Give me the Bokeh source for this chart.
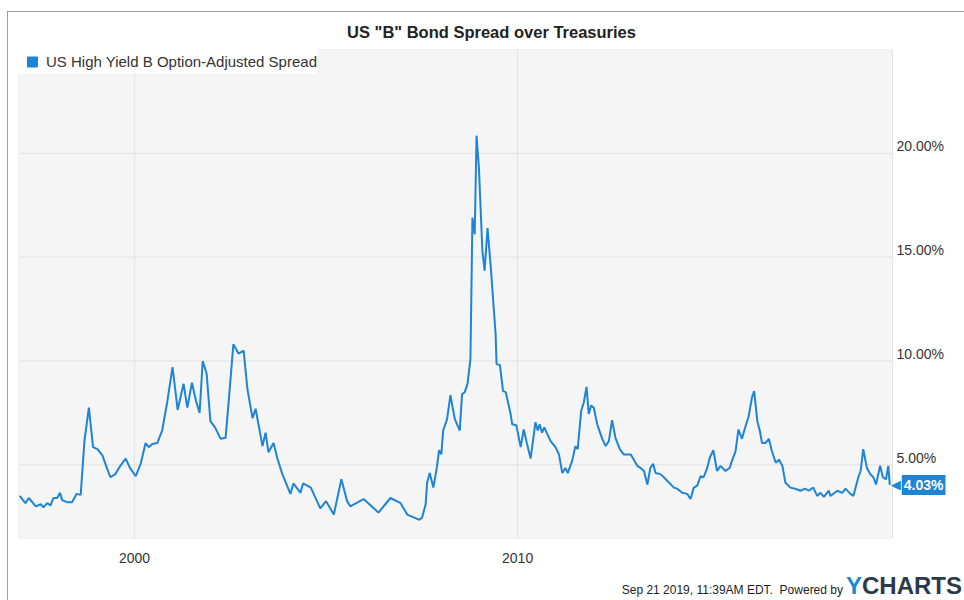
import pandas as pd
from bokeh.plotting import figure
from bokeh.layouts import column
from bokeh.core.properties import value
from bokeh.models import (ColumnDataSource, FixedTicker, DatetimeTickFormatter, Legend,
                          LegendItem, LabelSet, Label, Range1d, BoxAnnotation, Div)
from bokeh.embed import file_html
from bokeh.resources import INLINE

# ---------------- data ----------------
dates = [
    "1996-12-31", "1997-02-24", "1997-03-28", "1997-06-03", "1997-07-20", "1997-08-15",
    "1997-09-20", "1997-10-22", "1997-11-18", "1997-12-24", "1998-01-20", "1998-02-10",
    "1998-03-28", "1998-05-15", "1998-06-28", "1998-08-05", "1998-09-10", "1998-10-22",
    "1998-12-01", "1999-01-12", "1999-02-28", "1999-04-15", "1999-05-15", "1999-07-01",
    "1999-08-18", "1999-10-08", "1999-11-18", "2000-01-12", "2000-02-28", "2000-04-15",
    "2000-05-15", "2000-06-18", "2000-08-05", "2000-09-20", "2000-11-05", "2000-12-28",
    "2001-02-15", "2001-04-12", "2001-05-18", "2001-07-01", "2001-08-08", "2001-09-12",
    "2001-10-12", "2001-11-18", "2001-12-24", "2002-02-06", "2002-04-01", "2002-05-18",
    "2002-06-14", "2002-07-31", "2002-09-20", "2002-11-06", "2002-12-12", "2003-01-30",
    "2003-02-28", "2003-05-05", "2003-06-03", "2003-07-01", "2003-08-18", "2003-09-24",
    "2003-11-10", "2004-01-26", "2004-02-24", "2004-05-01", "2004-05-26", "2004-08-08",
    "2004-11-06", "2004-12-31", "2005-03-15", "2005-05-26", "2005-07-20", "2005-08-18",
    "2005-12-24", "2006-05-15", "2006-09-06", "2006-12-12", "2007-02-14", "2007-06-10",
    "2007-07-05", "2007-08-08", "2007-08-22", "2007-09-16", "2007-10-20", "2007-11-22",
    "2007-12-14", "2008-01-04", "2008-01-22", "2008-02-28", "2008-03-31", "2008-05-12",
    "2008-06-28", "2008-07-20", "2008-08-15", "2008-09-10", "2008-10-08", "2008-10-27",
    "2008-11-18", "2008-12-05", "2008-12-28", "2009-01-10", "2009-01-30", "2009-02-20",
    "2009-03-20", "2009-04-20", "2009-06-05", "2009-06-14", "2009-07-16", "2009-08-15",
    "2009-09-10", "2009-10-26", "2009-11-10", "2009-12-20", "2010-01-30", "2010-02-28",
    "2010-04-01", "2010-05-05", "2010-06-20", "2010-07-12", "2010-07-30", "2010-08-22",
    "2010-09-12", "2010-11-10", "2010-12-28", "2011-01-30", "2011-03-03", "2011-04-01",
    "2011-04-24", "2011-06-06", "2011-07-06", "2011-07-28", "2011-08-30", "2011-09-24",
    "2011-10-20", "2011-11-10", "2011-12-03", "2011-12-28", "2012-01-30", "2012-03-18",
    "2012-04-20", "2012-05-20", "2012-06-20", "2012-07-22", "2012-09-01", "2012-10-08",
    "2012-12-15", "2013-02-15", "2013-03-18", "2013-04-20", "2013-05-22", "2013-06-20",
    "2013-07-16", "2013-08-08", "2013-09-24", "2013-10-26", "2013-12-14", "2014-01-30",
    "2014-03-03", "2014-04-20", "2014-06-06", "2014-07-08", "2014-08-08", "2014-09-10",
    "2014-10-12", "2014-11-10", "2014-12-14", "2015-01-08", "2015-02-10", "2015-03-18",
    "2015-04-20", "2015-06-06", "2015-07-16", "2015-08-08", "2015-09-10", "2015-10-08",
    "2015-11-10", "2015-12-20", "2016-01-12", "2016-02-14", "2016-03-06", "2016-04-05",
    "2016-04-28", "2016-05-20", "2016-06-22", "2016-07-24", "2016-08-22", "2016-09-28",
    "2016-10-28", "2016-11-30", "2016-12-28", "2017-02-14", "2017-04-01", "2017-05-20",
    "2017-07-05", "2017-08-08", "2017-09-20", "2017-10-28", "2017-11-28", "2017-12-31",
    "2018-02-16", "2018-03-03", "2018-05-08", "2018-06-24", "2018-07-24", "2018-09-10",
    "2018-10-08", "2018-11-24", "2018-12-16", "2019-01-10", "2019-02-14", "2019-03-18",
    "2019-04-16", "2019-05-12", "2019-06-20", "2019-07-16", "2019-08-15", "2019-09-06",
    "2019-09-20",
]
spread = [
    3.5, 3.15, 3.4, 3.0, 3.1, 2.95,
    3.15, 3.05, 3.4, 3.4, 3.65, 3.3,
    3.2, 3.2, 3.6, 3.55, 6.15, 7.75,
    5.85, 5.75, 5.45, 4.8, 4.4, 4.55,
    4.95, 5.3, 4.85, 4.45, 5.05, 6.05,
    5.85, 6.0, 6.05, 6.65, 7.95, 9.7,
    7.65, 8.9, 7.75, 8.95, 8.1, 7.5,
    10.0, 9.4, 7.1, 6.8, 6.25, 6.3,
    7.9, 10.8, 10.35, 10.5, 8.65, 7.25,
    7.7, 5.9, 6.55, 5.6, 6.05, 5.3,
    4.55, 3.6, 4.1, 3.65, 4.1, 3.9,
    2.9, 3.25, 2.6, 4.3, 3.25, 3.0,
    3.35, 2.7, 3.4, 3.15, 2.6, 2.35,
    2.46, 3.1, 4.15, 4.6, 3.9, 4.85,
    5.7, 5.5, 6.65, 7.2, 8.35, 7.2,
    6.65, 8.4, 8.5, 8.9, 10.1, 16.9,
    16.1, 20.85, 19.3, 17.7, 15.3, 14.35,
    16.4, 14.5, 11.3, 9.85, 9.8, 8.55,
    8.5, 7.45, 6.95, 6.9, 5.85, 6.7,
    6.0, 5.3, 7.05, 6.65, 6.95, 6.55,
    6.8, 6.15, 5.85, 5.5, 4.6, 4.85,
    4.6, 5.2, 5.9, 5.75, 7.6, 8.0,
    8.75, 7.45, 7.85, 7.75, 6.95, 6.25,
    5.9, 6.15, 7.15, 6.3, 5.75, 5.5,
    5.5, 4.95, 4.85, 4.7, 4.05, 4.85,
    5.05, 4.6, 4.55, 4.4, 4.15, 3.9,
    3.85, 3.65, 3.6, 3.35, 3.9, 4.0,
    4.45, 4.4, 4.85, 5.35, 5.7, 4.7,
    4.95, 4.7, 4.85, 5.2, 5.65, 6.7,
    6.25, 6.95, 7.3, 8.25, 8.55, 7.1,
    6.65, 6.05, 6.05, 6.25, 5.65, 5.1,
    5.25, 4.95, 4.15, 3.9, 3.85, 3.75,
    3.85, 3.75, 3.9, 3.5, 3.65, 3.45,
    3.75, 3.5, 3.75, 3.65, 3.85, 3.6,
    3.5, 4.4, 4.7, 5.75, 4.85, 4.55,
    4.4, 4.05, 4.95, 4.4, 4.3, 4.95,
    4.03,
]
y_ticks = [5, 10, 15, 20]
y_tick_labels = ["5.00%", "10.00%", "15.00%", "20.00%"]
x_tick_dates = ["2000-01-01", "2010-01-01"]
title_text = 'US "B" Bond Spread over Treasuries'
series_name = "US High Yield B Option-Adjusted Spread"
last_value_label = "4.03%"
footer_text = "Sep 21 2019, 11:39AM EDT.  Powered by"
logo_y, logo_rest = "Y", "CHARTS"

# ---------------- style / layout ----------------
BLUE = "#1d84d6"
FONT = "Liberation Sans"
GRID = "#e2e2e2"
PLOT_W = 874          # width of the grey plotting area (px)
FRAME_W = 946         # plotting area + room for the right-hand labels (px)

df = pd.DataFrame({"date": pd.to_datetime(dates), "spread": spread})
src = ColumnDataSource(df)

plot_start = pd.Timestamp("1996-12-20")
plot_end = pd.Timestamp("2019-10-16")
frame_end = plot_start + (plot_end - plot_start) * (FRAME_W / PLOT_W)
y_lo, y_hi = 1.45, 25.0


def ms(t):
    return pd.Timestamp(t).value / 1e6


p = figure(width=956, height=563, x_axis_type="datetime",
           output_backend="svg", toolbar_location=None,
           x_range=Range1d(plot_start, frame_end), y_range=Range1d(y_lo, y_hi),
           min_border_left=10, min_border_right=0, min_border_top=37, min_border_bottom=37,
           background_fill_color="white", border_fill_color="white",
           outline_line_color=None)

p.title.text = title_text
p.title.align = "center"
p.title.text_font = FONT
p.title.text_font_size = "16.5px"
p.title.text_font_style = "bold"
p.title.text_color = "#222222"
p.title.standoff = 17

x_ticks_ms = [ms(d) for d in x_tick_dates]
p.xaxis.ticker = FixedTicker(ticks=x_ticks_ms)
p.xaxis.formatter = DatetimeTickFormatter(years="%Y", months="%Y", days="%Y")
p.xaxis.axis_line_color = None
p.xaxis.major_tick_line_color = None
p.xaxis.minor_tick_line_color = None
p.xaxis.major_label_text_font = FONT
p.xaxis.major_label_text_font_size = "14px"
p.xaxis.major_label_text_color = "#333333"
p.xaxis.major_label_standoff = 8
p.yaxis.visible = False
p.xgrid.visible = False
p.ygrid.visible = False

# grey plotting area with its border
p.add_layout(BoxAnnotation(left=ms(plot_start), right=ms(plot_end), fill_color="#f5f5f5",
                           fill_alpha=1.0, line_color="#a6a6a6", line_width=1,
                           level="underlay"))

# grid lines, limited to the plotting area
hgrid = ColumnDataSource(dict(x0=[plot_start] * len(y_ticks), x1=[plot_end] * len(y_ticks),
                              y0=y_ticks, y1=y_ticks))
vgrid = ColumnDataSource(dict(x0=pd.to_datetime(x_tick_dates), x1=pd.to_datetime(x_tick_dates),
                              y0=[y_lo] * len(x_tick_dates), y1=[y_hi] * len(x_tick_dates)))
p.segment("x0", "y0", "x1", "y1", source=hgrid, line_color=GRID, line_width=1)
p.segment("x0", "y0", "x1", "y1", source=vgrid, line_color=GRID, line_width=1)

line_r = p.line("date", "spread", source=src, line_color=BLUE, line_width=2)

# right-side tick labels (baseline sits on the grid line)
lab_src = ColumnDataSource(dict(x=[plot_end] * len(y_ticks), y=y_ticks, text=y_tick_labels))
p.add_layout(LabelSet(x="x", y="y", text="text", source=lab_src, x_offset=4, y_offset=2,
                      text_baseline="alphabetic", text_align="left", text_font=value(FONT),
                      text_font_size=value("14px"), text_color="#333333"))

# legend with a square marker (hidden marker renderer used only for the key)
sq = p.scatter("date", "spread", source=src, marker="square", size=10, color=BLUE, visible=False)
legend = Legend(items=[LegendItem(label=series_name, renderers=[sq])], location="top_left",
                margin=0, padding=1, spacing=0, glyph_width=28, glyph_height=25,
                label_standoff=0, label_text_font=FONT, label_text_font_size="15px",
                label_text_color="#333333", background_fill_color="white",
                background_fill_alpha=1.0, border_line_color=None,
                inactive_fill_alpha=0.0, click_policy="none")
p.add_layout(legend)

# last value tag
last_x = df["date"].iloc[-1]
last_y = df["spread"].iloc[-1]
p.add_layout(Label(x=last_x, y=last_y, text="◀", text_font="DejaVu Sans", text_font_size="13px",
                   text_color=BLUE, text_align="right", text_baseline="middle", x_offset=11))
p.add_layout(Label(x=last_x, y=last_y, text=last_value_label, text_font=FONT, text_font_size="14px",
                   text_font_style="bold", text_color="white", text_align="left",
                   text_baseline="middle", x_offset=12, background_fill_color=BLUE,
                   padding=2))

# footer
footer = Div(
    text=(
        '<div style="display:flex;justify-content:flex-end;align-items:baseline;'
        'width:954px;line-height:22px;font-family:\'Liberation Sans\',Arial,sans-serif;">'
        f'<span style="font-size:12px;color:#222;margin-right:3px;white-space:pre">{footer_text}</span>'
        f'<span style="font-size:24px;font-weight:bold;color:#1b8ad6">{logo_y}</span>'
        f'<span style="font-size:24px;font-weight:bold;color:#2b3a4a">{logo_rest}</span>'
        '</div>'
    ),
    width=956, height=25, margin=0,
)

layout = column(p, footer, spacing=0, margin=(11, 0, 0, 7),
                styles={"border-left": "1px solid #9c9c9c", "border-top": "1px solid #9c9c9c"})

open("out.html", "w").write(file_html(layout, INLINE))
